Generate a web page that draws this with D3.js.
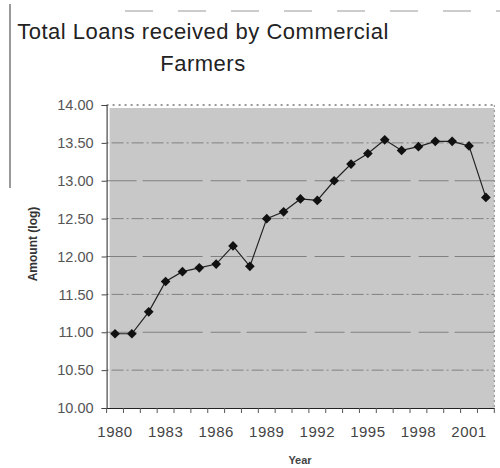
<!DOCTYPE html>
<html><head><meta charset="utf-8">
<script src="https://cdn.jsdelivr.net/npm/d3@7"></script>
<style>html,body{margin:0;padding:0;background:#fff;} svg{display:block;font-family:"Liberation Sans",Arial,sans-serif;}</style>
</head><body>
<script>
const years = d3.range(1980, 2003);
const amounts = [10.98, 10.98, 11.27, 11.67, 11.80, 11.85, 11.90, 12.14, 11.87,
  12.50, 12.59, 12.76, 12.74, 13.00, 13.22, 13.36, 13.54, 13.40, 13.45, 13.52, 13.52, 13.46, 12.78];
const yTicks = [10, 10.5, 11, 11.5, 12, 12.5, 13, 13.5, 14];
const xLabelYears = [1980, 1983, 1986, 1989, 1992, 1995, 1998, 2001];
const titleLines = ["Total Loans received by Commercial", "Farmers"];

const W = 500, H = 468;
const svg = d3.select("body").append("svg").attr("width", W).attr("height", H);

// scan-like chart border fragments
svg.append("line").attr("x1", 10).attr("x2", 10).attr("y1", 4).attr("y2", 188)
  .attr("stroke", "#777").attr("stroke-width", 1.5);
svg.append("line").attr("x1", 125).attr("x2", 500).attr("y1", 11).attr("y2", 11)
  .attr("stroke", "#999").attr("stroke-width", 1).attr("stroke-dasharray", "28,25");

const x = d3.scaleBand().domain(years).range([106.6, 494.3]).padding(0);
const y = d3.scaleLinear().domain([10, 14]).range([408, 105]);

// plot area
svg.append("rect").attr("x", x.range()[0] + 3).attr("y", y(14) + 3)
  .attr("width", x.range()[1] - x.range()[0] - 3).attr("height", y(10) - y(14) - 3)
  .attr("fill", "#c8c8c8");

// gridlines
svg.append("g").selectAll("line").data(yTicks.filter(d => d > 10 && d < 14)).join("line")
  .attr("x1", x.range()[0]).attr("x2", x.range()[1])
  .attr("y1", d => y(d)).attr("y2", d => y(d))
  .attr("stroke", "#808080").attr("stroke-width", 1)
  .attr("stroke-dasharray", (d, i) => i % 2 ? "30,6,60,8" : "2,3,12,3");
svg.append("line").attr("x1", x.range()[0]).attr("x2", x.range()[1])
  .attr("y1", y(14)).attr("y2", y(14)).attr("stroke", "#333").attr("stroke-dasharray", "2,4");
svg.append("line").attr("x1", x.range()[1]).attr("x2", x.range()[1])
  .attr("y1", y(14)).attr("y2", y(10)).attr("stroke", "#888").attr("stroke-dasharray", "2,3");

// y axis
const yAxis = svg.append("g").attr("transform", `translate(${x.range()[0]},0)`)
  .call(d3.axisLeft(y).tickValues(yTicks).tickFormat(d3.format(".2f")).tickSize(5).tickPadding(8));
yAxis.select(".domain").attr("stroke", "#222");
yAxis.selectAll(".tick line").attr("stroke", "#444");
yAxis.selectAll("text").attr("font-size", 14.5).attr("fill", "#555")
  .attr("font-family", "'Liberation Sans',Arial,sans-serif");

// x axis
const xAxis = svg.append("g").attr("transform", `translate(0,${y(10)})`)
  .call(d3.axisBottom(x).tickValues(xLabelYears).tickSize(0).tickPadding(18));
xAxis.select(".domain").attr("stroke", "#222");
xAxis.selectAll("text").attr("font-size", 15).attr("fill", "#444").attr("letter-spacing", "0.5px")
  .attr("font-family", "'Liberation Sans',Arial,sans-serif");
svg.append("g").selectAll("line").data(years.concat([null])).join("line")
  .attr("x1", d => d === null ? x.range()[1] : x(d))
  .attr("x2", d => d === null ? x.range()[1] : x(d))
  .attr("y1", y(10)).attr("y2", y(10) + 5).attr("stroke", "#555");

// line + markers
const pts = years.map((yr, i) => [x(yr) + x.bandwidth() / 2, y(amounts[i])]);
svg.append("path").attr("d", d3.line()(pts)).attr("fill", "none")
  .attr("stroke", "#222").attr("stroke-width", 1.2);
svg.append("g").selectAll("path").data(pts).join("path")
  .attr("transform", d => `translate(${d[0]},${d[1]})`)
  .attr("d", d3.symbol(d3.symbolDiamond2, 60)())
  .attr("fill", "#111");

// titles
svg.append("text").attr("x", 203).attr("y", 39).attr("text-anchor", "middle")
  .attr("font-size", 22).attr("letter-spacing", "0.5px").attr("fill", "#222").text(titleLines[0]);
svg.append("text").attr("x", 203).attr("y", 71).attr("text-anchor", "middle")
  .attr("font-size", 22).attr("letter-spacing", "0.5px").attr("fill", "#222").text(titleLines[1]);
svg.append("text").attr("x", 300).attr("y", 464).attr("text-anchor", "middle")
  .attr("font-size", 11).attr("font-weight", "bold").attr("fill", "#444").text("Year");
svg.append("text").attr("transform", "translate(37,244) rotate(-90)").attr("text-anchor", "middle")
  .attr("font-size", 12).attr("font-weight", "bold").attr("fill", "#333").text("Amount (log)");
</script>
</body></html>
